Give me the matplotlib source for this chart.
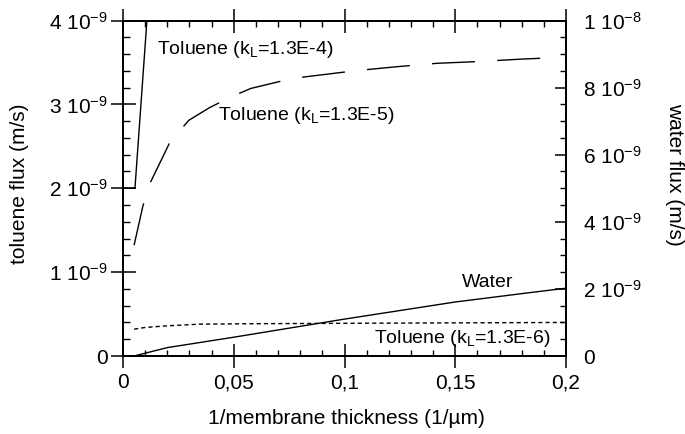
import matplotlib
matplotlib.use("Agg")
import matplotlib.pyplot as plt
from matplotlib.ticker import FixedLocator, FixedFormatter

plt.rcParams['font.family'] = ['Liberation Sans', 'DejaVu Sans']
plt.rcParams['mathtext.fontset'] = 'custom'
plt.rcParams['mathtext.rm'] = 'Liberation Sans'
plt.rcParams['mathtext.it'] = 'Liberation Sans:italic'

# 1/membrane thickness (1/um) and fluxes (m/s)
x_tol4 = [0.0, 0.0054, 0.0108]
y_tol4 = [2.0e-9, 2.0e-9, 4.0e-9]

x_tol5 = [0.005, 0.009, 0.0122, 0.0212, 0.0297, 0.039, 0.048, 0.0577, 0.0766,
          0.1045, 0.124, 0.142, 0.16, 0.18, 0.189]
y_tol5 = [1.32e-9, 1.79e-9, 2.06e-9, 2.55e-9, 2.81e-9, 2.96e-9, 3.08e-9, 3.19e-9,
          3.31e-9, 3.40e-9, 3.45e-9, 3.49e-9, 3.51e-9, 3.54e-9, 3.55e-9]

x_tol6 = [0.005, 0.01, 0.02, 0.035, 0.06, 0.1, 0.15, 0.2]
y_tol6 = [0.32e-9, 0.34e-9, 0.36e-9, 0.38e-9, 0.385e-9, 0.39e-9, 0.395e-9, 0.40e-9]

x_water = [0.005, 0.02, 0.05, 0.1, 0.15, 0.185, 0.2]
y_water = [0.0, 0.25e-9, 0.56e-9, 1.1e-9, 1.61e-9, 1.9e-9, 2.02e-9]

x_ticks = [0, 0.05, 0.1, 0.15, 0.2]
x_ticklabels = ['0', '0,05', '0,1', '0,15', '0,2']
left_ticks = [0, 1e-9, 2e-9, 3e-9, 4e-9]
left_ticklabels = ['0', r'1 10$^{\mathregular{-9}}$', r'2 10$^{\mathregular{-9}}$',
                   r'3 10$^{\mathregular{-9}}$', r'4 10$^{\mathregular{-9}}$']
right_ticks = [0, 2e-9, 4e-9, 6e-9, 8e-9, 1e-8]
right_ticklabels = ['0', r'2 10$^{\mathregular{-9}}$', r'4 10$^{\mathregular{-9}}$',
                    r'6 10$^{\mathregular{-9}}$', r'8 10$^{\mathregular{-9}}$',
                    r'1 10$^{\mathregular{-8}}$']

W, H = 685, 434
fig = plt.figure(figsize=(W / 100, H / 100), dpi=100)
L, R, B, T = 123, 566, 356, 20.5
ax = fig.add_axes([L / W, 1 - B / H, (R - L) / W, (B - T) / H])
ax2 = ax.twinx()

lw = 1.0
ax.plot(x_tol4, y_tol4, color='black', lw=lw)
ax.plot(x_tol5, y_tol5, color='black', lw=lw, dashes=(31, 16))
ax.plot(x_tol6, y_tol6, color='black', lw=lw, dashes=(3, 2.2))
ax2.plot(x_water, y_water, color='black', lw=lw)

ax.set_xlim(0, 0.2)
ax.set_ylim(0, 4e-9)
ax2.set_ylim(0, 1e-8)

for a in (ax, ax2):
    for s in a.spines.values():
        s.set_linewidth(1.3)

ax.xaxis.set_major_locator(FixedLocator(x_ticks))
ax.xaxis.set_major_formatter(FixedFormatter(x_ticklabels))
ax.xaxis.set_minor_locator(FixedLocator([i * 0.01 for i in range(21)]))
ax.yaxis.set_major_locator(FixedLocator(left_ticks))
ax.yaxis.set_major_formatter(FixedFormatter(left_ticklabels))
ax.yaxis.set_minor_locator(FixedLocator([i * 0.2e-9 for i in range(21)]))
ax2.yaxis.set_major_locator(FixedLocator(right_ticks))
ax2.yaxis.set_major_formatter(FixedFormatter(right_ticklabels))
ax2.yaxis.set_minor_locator(FixedLocator([i * 0.5e-9 for i in range(21)]))

ax.tick_params(axis='x', which='major', direction='inout', length=17, width=1.1,
               top=True, labelsize=15, pad=4)
ax.tick_params(axis='x', which='minor', direction='in', length=4.5, width=1.0, top=True)
ax.tick_params(axis='y', which='major', direction='inout', length=18, width=1.1,
               right=False, labelsize=15, pad=2)
ax.tick_params(axis='y', which='minor', direction='in', length=5, width=1.0, right=False)
ax2.tick_params(axis='y', which='major', direction='in', length=8, width=1.1,
                labelsize=15, pad=12)
ax2.tick_params(axis='y', which='minor', direction='in', length=4.5, width=1.0)

fs = 14
ax.text(0.0153, 3.595e-9, r'Toluene (k$_{\mathregular{L}}$=1.3E-4)', fontsize=fs, va='baseline')
ax.text(0.0428, 2.81e-9, r'Toluene (k$_{\mathregular{L}}$=1.3E-5)', fontsize=fs, va='baseline')
ax.text(0.153, 0.82e-9, 'Water', fontsize=fs, va='baseline')
ax.text(0.1135, 0.155e-9, r'Toluene (k$_{\mathregular{L}}$=1.3E-6)', fontsize=fs, va='baseline')

fig.text(20 / W, 1 - 184 / H, 'toluene flux (m/s)', rotation=90, fontsize=15,
         ha='center', va='center')
fig.text(675 / W, 1 - 174 / H, 'water flux (m/s)', rotation=-90, fontsize=15,
         ha='center', va='center')
fig.text(346 / W, 1 - 418 / H, '1/membrane thickness (1/\u00b5m)', fontsize=15,
         ha='center', va='center')

fig.savefig('out.png', dpi=100)
